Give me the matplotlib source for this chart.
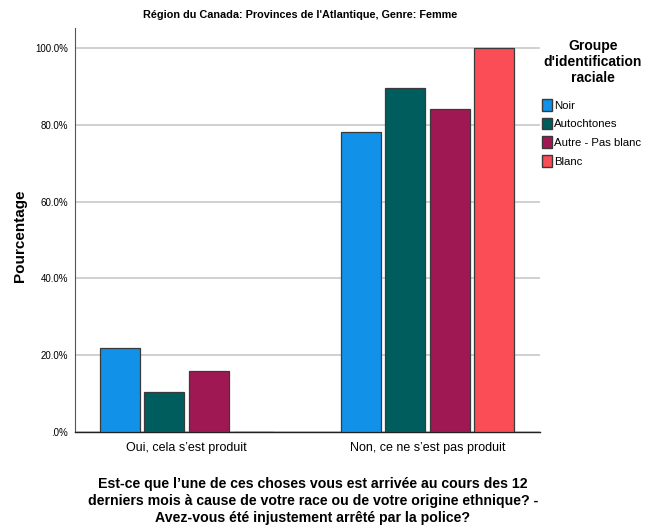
import numpy as np
import matplotlib.pyplot as plt
from matplotlib.patches import Patch

plt.rcParams['font.family'] = ['Liberation Sans', 'DejaVu Sans']

categories = ["Oui, cela s\u2019est produit", "Non, ce ne s\u2019est pas produit"]
groups = ["Noir", "Autochtones", "Autre - Pas blanc", "Blanc"]
values = {
    "Noir": [21.9, 78.1],
    "Autochtones": [10.5, 89.5],
    "Autre - Pas blanc": [15.8, 84.2],
    "Blanc": [0.0, 100.0],
}
colors = ["#1192e8", "#005d5d", "#9f1853", "#fa4d56"]
yticks = [0, 20, 40, 60, 80, 100]
ytick_labels = [".0%", "20.0%", "40.0%", "60.0%", "80.0%", "100.0%"]

fig = plt.figure(figsize=(6.58, 5.31), dpi=100)
ax = fig.add_axes([75 / 658, 1 - 432 / 531, 465 / 658, 404 / 531])

x = np.arange(len(categories))
width = 0.166
step = 0.184
for i, (g, c) in enumerate(zip(groups, colors)):
    ax.bar(x + (i - 1.5) * step, values[g], width, color=c,
           edgecolor="#3a3a3a", linewidth=0.9, zorder=3, label=g)

ax.set_xlim(-0.463, 1.467)
ax.set_ylim(0, 105.2)
ax.set_yticks(yticks)
ax.set_yticklabels(ytick_labels, fontsize=7)
ax.set_xticks(x)
ax.set_xticklabels(categories, fontsize=9)
ax.tick_params(axis="x", length=0, pad=7)
ax.tick_params(axis="y", length=0, pad=5)
ax.yaxis.grid(True, color="#c8c8c8", linewidth=1.2, zorder=0)
ax.set_axisbelow(True)
for s in ["top", "right"]:
    ax.spines[s].set_visible(False)
ax.spines["left"].set_color("#555555")
ax.spines["left"].set_linewidth(0.8)
ax.spines["bottom"].set_color("#222222")
ax.spines["bottom"].set_linewidth(1.0)

fig.text(20 / 658, 1 - 236 / 531, "Pourcentage", rotation=90, ha="center", va="center",
         fontsize=11, fontweight="bold")

fig.text(300 / 658, 1 - 15 / 531, "R\u00e9gion du Canada: Provinces de l'Atlantique, Genre: Femme",
         ha="center", va="center", fontsize=7.8, fontweight="bold")
fig.text(313 / 658, 1 - 501 / 531,
         "Est-ce que l\u2019une de ces choses vous est arriv\u00e9e au cours des 12\n"
         "derniers mois \u00e0 cause de votre race ou de votre origine ethnique? -\n"
         "Avez-vous \u00e9t\u00e9 injustement arr\u00eat\u00e9 par la police?",
         ha="center", va="center", fontsize=10.2, fontweight="bold", linespacing=1.25)

fig.text(593 / 658, 1 - 62 / 531, "Groupe\nd'identification\nraciale", ha="center", va="center",
         fontsize=10, fontweight="bold", linespacing=1.22)

handles = [Patch(facecolor=c, edgecolor="#3a3a3a", label=g) for g, c in zip(groups, colors)]
leg = fig.legend(handles=handles, loc="upper left", bbox_to_anchor=(542 / 658, 1 - 99 / 531),
                 frameon=False, fontsize=8.2,
                 handlelength=0.85, handleheight=1.2, handletextpad=0.2, labelspacing=0.62,
                 borderaxespad=0, borderpad=0)

fig.savefig("out.png", dpi=100)
